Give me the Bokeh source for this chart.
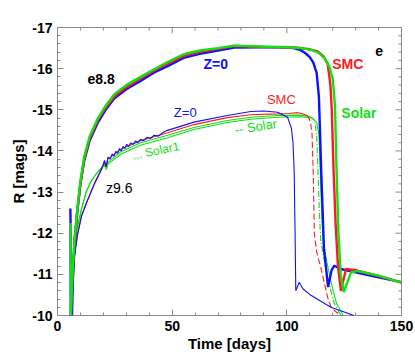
import math
from bokeh.plotting import figure
from bokeh.models import Range1d, FixedTicker, Label
from bokeh.embed import file_html
from bokeh.resources import INLINE

# ---------------- data ----------------
x_ticks = [0, 50, 100, 150]
x_minor = [10, 20, 30, 40, 60, 70, 80, 90, 110, 120, 130, 140]
y_ticks = [-17, -16, -15, -14, -13, -12, -11, -10]
y_minor = [-16.8, -16.6, -16.4, -16.2, -15.8, -15.6, -15.4, -15.2, -14.8, -14.6, -14.4, -14.2,
           -13.8, -13.6, -13.4, -13.2, -12.8, -12.6, -12.4, -12.2, -11.8, -11.6, -11.4, -11.2,
           -10.8, -10.6, -10.4, -10.2]

# e8.8 (thick) models
e_blue_t = [5.6, 5.7, 5.8, 6.5, 7.5, 8.7, 10, 11.6, 14, 17.5, 21, 24.8, 30, 36.2, 42, 48, 55, 62, 70, 77,
            88.6, 96, 103, 106, 108, 110, 111.5, 113, 114, 115, 116.2, 117, 118, 119.5, 120.7, 123.6, 130, 140, 150]
e_blue_m = [-12.6, -12.25, -10.0, -10.8, -11.8, -12.55, -13.2, -13.75, -14.25, -14.68, -15.0, -15.28, -15.5,
            -15.7, -15.9, -16.06, -16.26, -16.36, -16.44, -16.51, -16.52, -16.52, -16.5, -16.45, -16.38, -16.28,
            -16.15, -15.9, -15.3, -13.5, -11.6, -11.2, -10.69, -11.1, -11.21, -11.13, -11.05, -10.93, -10.81]

e_red_t = [5.8, 6.5, 7.5, 8.7, 10, 11.6, 14, 17.5, 21, 24.8, 30, 36.2, 42, 48, 55, 62, 70, 77, 88.6, 100,
           106, 110, 113.5, 116, 117.8, 119, 119.6, 120.4, 121.3, 122.3, 123.6, 125.8, 130, 140, 150]
e_red_m = [-10.0, -10.95, -11.85, -12.6, -13.22, -13.8, -14.3, -14.74, -15.05, -15.33, -15.55, -15.76, -15.95,
           -16.12, -16.31, -16.41, -16.48, -16.55, -16.53, -16.52, -16.5, -16.47, -16.42, -16.3, -16.12,
           -15.6, -15.0, -13.5, -12.2, -11.2, -10.6, -11.13, -11.1, -10.96, -10.8]

e_grn_t = [5.7, 5.8, 6.5, 7.5, 8.7, 10, 11.6, 14, 17.5, 21, 24.8, 30, 36.2, 42, 48, 55, 62, 70, 77, 88.6, 100,
           106, 111, 114, 116.5, 118.5, 120, 121, 121.7, 122.5, 123.5, 124.8, 128, 131, 140, 150]
e_grn_m = [-12.25, -10.0, -11.0, -11.9, -12.63, -13.28, -13.85, -14.35, -14.78, -15.1, -15.38, -15.6, -15.8,
           -15.98, -16.16, -16.35, -16.44, -16.5, -16.56, -16.54, -16.52, -16.5, -16.45, -16.38, -16.25,
           -16.05, -15.75, -15.1, -13.5, -12.0, -11.0, -10.57, -11.05, -11.08, -10.97, -10.8]

# z9.6 (thin) models
z_blue_t = [6.3, 6.4, 6.6, 7.0, 7.5, 8.7, 10.5, 13.1, 16, 19.5, 20.5, 21.2, 22, 23, 23.8, 24.6, 25.4, 26.2,
            27, 27.8, 28.6, 29.4, 30.2, 31, 32, 33, 34, 35, 36.2, 37.5, 39, 40.5, 42, 44, 46, 48, 59.5, 74,
            84.3, 90, 96, 100.3, 102, 102.7, 103.2, 103.6, 103.9, 105.4, 107, 110.5, 119.2, 129.3]
z_blue_m = [-11.4, -11.0, -10.0, -10.9, -11.45, -11.95, -12.42, -12.8, -13.2, -13.6, -13.77, -13.62, -13.85,
            -13.8, -13.93, -13.87, -13.99, -13.94, -14.06, -14.0, -14.11, -14.06, -14.16, -14.11, -14.2,
            -14.16, -14.24, -14.2, -14.28, -14.25, -14.33, -14.3, -14.38, -14.36, -14.45, -14.5, -14.7,
            -14.86, -14.96, -14.97, -14.94, -14.82, -14.55, -14.2, -13.5, -12.0, -10.6, -10.81, -10.65,
            -10.49, -10.2, -10.0]

z_red_t = [6.2, 6.8, 7.5, 8.7, 10.5, 13.1, 16, 19.5, 20.5, 21.2, 22, 27.6, 36.2, 48, 59.5, 74, 84.3, 96, 101,
           104.7, 107, 109, 110.3, 111, 111.5, 112, 113, 114.8, 116.3, 117.8, 119.2, 120.7, 123.6]
z_red_m = [-10.0, -11.1, -11.5, -11.97, -12.43, -12.8, -13.18, -13.58, -13.74, -13.62, -13.8, -14.04, -14.25,
           -14.44, -14.64, -14.81, -14.88, -14.9, -14.91, -14.93, -14.9, -14.86, -14.72, -14.4, -13.5, -12.0,
           -11.55, -11.17, -10.8, -10.44, -10.22, -10.12, -10.0]

z_grn_t = [6.0, 6.6, 7.5, 8.7, 10.5, 12.5, 14.5, 17, 19.5, 20.5, 21.3, 22, 27.6, 36.2, 48, 59.5, 74, 84.3, 96,
           105, 110, 112, 113, 113.6, 114.2, 114.8, 116.3, 117.8, 119.2, 120.7, 123.6]
z_grn_m = [-10.0, -11.2, -11.75, -12.15, -12.6, -13.0, -13.25, -13.45, -13.62, -13.68, -13.58, -13.72,
           -13.98, -14.2, -14.38, -14.57, -14.74, -14.82, -14.86, -14.87, -14.84, -14.74, -14.4, -13.5,
           -12.5, -11.82, -11.35, -10.93, -10.6, -10.29, -10.0]

z_grn1_t = [6.0, 6.6, 7.5, 8.7, 10.5, 12.5, 14.5, 17, 19.5, 20.5, 21.3, 22, 27.6, 36.2, 48, 59.5, 74, 84.3,
            96, 106, 111, 113, 114, 114.6, 115.2, 115.8, 117.3, 118.8, 120.2, 121.7, 124.6]
z_grn1_m = [-10.0, -11.2, -11.75, -12.15, -12.6, -13.0, -13.25, -13.45, -13.6, -13.65, -13.55, -13.68,
            -13.92, -14.14, -14.32, -14.52, -14.69, -14.77, -14.82, -14.83, -14.8, -14.7, -14.4, -13.5,
            -12.5, -11.82, -11.35, -10.93, -10.6, -10.29, -10.0]

BLUE = "#1010ff"
RED = "#ff1a1a"
GREEN = "#11e011"
GRAY = "#8a8a8a"
FONT = "Liberation Sans"

p = figure(width=415, height=355, x_range=Range1d(0, 150), y_range=Range1d(-10, -17),
           output_backend="svg", toolbar_location=None,
           min_border_left=57, min_border_right=14, min_border_top=27, min_border_bottom=40)
p.xgrid.visible = False
p.ygrid.visible = False
p.outline_line_color = GRAY
p.background_fill_color = "white"

# main axes
for ax, major, minor in ((p.xaxis[0], x_ticks, x_minor), (p.yaxis[0], y_ticks, y_minor)):
    ax.ticker = FixedTicker(ticks=major, minor_ticks=minor)
    ax.major_tick_in = 6
    ax.major_tick_out = 0
    ax.minor_tick_in = 3
    ax.minor_tick_out = 0
    ax.major_tick_line_color = GRAY
    ax.minor_tick_line_color = GRAY
    ax.axis_line_color = None
    ax.major_label_text_font = FONT
    ax.major_label_text_font_style = "bold"
    ax.major_label_text_font_size = "14px"
    ax.major_label_text_color = "black"
    ax.axis_label_text_font = FONT
    ax.axis_label_text_font_style = "bold"
    ax.axis_label_text_font_size = "15px"
    ax.axis_label_text_color = "black"

p.xaxis.major_label_overrides = {t: str(t) for t in x_ticks}
p.yaxis.major_label_overrides = {t: str(t) for t in y_ticks}
p.xaxis.axis_label = "Time [days]"
p.yaxis.axis_label = "R [mags]"
p.xaxis.major_label_standoff = 5
p.xaxis.axis_label_standoff = 1
p.yaxis.major_label_standoff = 5
p.yaxis.axis_label_standoff = 2

# mirror ticks on top / right (half of each dash is clipped by the frame)
p.scatter([150] * len(y_ticks), y_ticks, marker="dash", size=12, line_color=GRAY, line_width=1)
p.scatter([150] * len(y_minor), y_minor, marker="dash", size=6, line_color=GRAY, line_width=1)
p.scatter(x_ticks, [-17] * len(x_ticks), marker="dash", size=12, angle=math.pi / 2,
          line_color=GRAY, line_width=1)
p.scatter(x_minor, [-17] * len(x_minor), marker="dash", size=6, angle=math.pi / 2,
          line_color=GRAY, line_width=1)

# thin (z9.6) lines
p.line(z_grn1_t, z_grn1_m, line_color=GREEN, line_width=1.1)
p.line(z_grn_t[:21], z_grn_m[:21], line_color=GREEN, line_width=1.1)
p.line(z_grn_t[20:], z_grn_m[20:], line_color=GREEN, line_width=1.1, line_dash="6 2 1 2")
p.line(z_red_t[:22], z_red_m[:22], line_color=RED, line_width=1.1)
p.line(z_red_t[21:], z_red_m[21:], line_color=RED, line_width=1.1, line_dash="6 3")
p.line(z_blue_t, z_blue_m, line_color=BLUE, line_width=1.1)

# thick (e8.8) lines
p.line(e_blue_t, e_blue_m, line_color=BLUE, line_width=2.4)
p.line(e_red_t, e_red_m, line_color=RED, line_width=2.4)
p.line(e_grn_t, e_grn_m, line_color=GREEN, line_width=2.4)

# labels
def lab(x, y, t, color="black", bold=False, size="14px", angle=0.0):
    p.add_layout(Label(x=x, y=y, text=t, text_color=color, text_font=FONT,
                       text_font_style="bold" if bold else "normal", text_font_size=size,
                       text_align="center", text_baseline="middle", angle=angle, angle_units="deg"))

lab(19, -15.74, "e8.8", bold=True)
lab(26.9, -13.1, "z9.6")
lab(140.2, -16.44, "e", bold=True)
lab(69, -16.12, "Z=0", color=BLUE, bold=True)
lab(126.6, -16.12, "SMC", color=RED, bold=True)
lab(131.4, -14.91, "Solar", color=GREEN, bold=True)
lab(55.7, -14.93, "Z=0", color=BLUE, size="13px")
lab(97.6, -15.25, "SMC", color=RED, size="13px")
lab(86.5, -14.59, "-- Solar", color=GREEN, size="13px", angle=9)
lab(42.8, -14.0, "... Solar1", color=GREEN, size="12px", angle=12)

open("out.html", "w").write(file_html(p, INLINE))
